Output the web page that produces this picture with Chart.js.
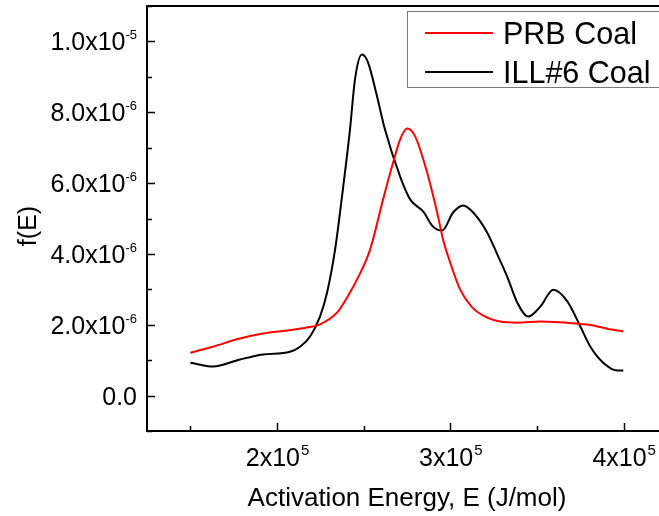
<!DOCTYPE html>
<html lang="en">
<head>
<meta charset="UTF-8" />
<title>f(E) vs Activation Energy</title>
<script src="https://cdn.jsdelivr.net/npm/chart.js"></script>
<style>
  html, body { margin: 0; padding: 0; overflow: hidden; background: #fff; }
  body { width: 659px; height: 516px; font-family: "Liberation Sans", Arial, sans-serif; }
  #wrap { position: relative; width: 668px; height: 516px; }
  #legend { position: absolute; left: 407px; top: 11px; width: 270px; height: 75px;
            border: 1.5px solid #7a7a7a; background: #fff; }
  .row { position: absolute; left: 0; display: flex; align-items: center; height: 38px; font-size: 30.5px; color: #000; }
  .swatch { width: 68px; height: 2px; margin-left: 17px; margin-right: 10px; }
</style>
</head>
<body>
<div id="wrap">
  <canvas id="chart" width="668" height="516"></canvas>
  <div id="legend"></div>
</div>
<script>
  // activation energy (J/mol) and distribution f(E)
  const prbE = [150000, 163000, 178600, 191900, 205800, 217300, 224800, 234600, 242100, 246200,
                253700, 261200, 267000, 271000, 275100, 279700, 286600, 292400, 295800, 299900,
                305700, 312600, 321300, 328800, 338600, 351900, 373200, 382500, 390500, 399800];
  const prbF = [1.21e-6, 1.38e-6, 1.61e-6, 1.75e-6, 1.84e-6, 1.92e-6, 2.01e-6, 2.34e-6, 2.91e-6, 3.28e-6,
                4.12e-6, 5.54e-6, 6.58e-6, 7.23e-6, 7.54e-6, 7.32e-6, 6.30e-6, 5.17e-6, 4.41e-6, 3.76e-6,
                2.99e-6, 2.49e-6, 2.20e-6, 2.09e-6, 2.06e-6, 2.09e-6, 2.03e-6, 1.98e-6, 1.89e-6, 1.81e-6];

  const illE = [150000, 163000, 178600, 191900, 207500, 213300, 219100, 224800, 228900, 233500,
                237500, 242100, 245000, 249000, 252500, 257700, 262300, 271000, 276800, 284300,
                290000, 295300, 301600, 307400, 313200, 321300, 327600, 332800, 338600, 344900,
                351900, 359400, 367500, 375000, 380800, 388200, 396300, 399800];
  const illF = [0.93e-6, 0.82e-6, 1.02e-6, 1.16e-6, 1.24e-6, 1.38e-6, 1.67e-6, 2.23e-6, 2.91e-6, 4.12e-6,
                5.62e-6, 7.51e-6, 8.93e-6, 9.63e-6, 9.41e-6, 8.45e-6, 7.51e-6, 6.19e-6, 5.54e-6, 5.20e-6,
                4.77e-6, 4.66e-6, 5.17e-6, 5.37e-6, 5.17e-6, 4.60e-6, 3.93e-6, 3.36e-6, 2.63e-6, 2.23e-6,
                2.51e-6, 2.99e-6, 2.66e-6, 1.95e-6, 1.38e-6, 0.93e-6, 0.71e-6, 0.71e-6];

  const seriesNames = ['PRB Coal', 'ILL#6 Coal'];
  const seriesColors = ['#ff0000', '#000000'];

  // tick positions (all get a mark) and the labelled ones, base text + exponent
  const xTickValues = [150000, 200000, 250000, 300000, 350000, 400000];
  const xLabelValues = [200000, 300000, 400000];
  const xLabelTexts = ['2x10', '3x10', '4x10'];
  const xLabelExps = ['5', '5', '5'];

  const yTickValues = [-1e-6, 0, 1e-6, 2e-6, 3e-6, 4e-6, 5e-6, 6e-6, 7e-6, 8e-6, 9e-6, 1e-5, 1.1e-5];
  const yLabelValues = [0, 2e-6, 4e-6, 6e-6, 8e-6, 1e-5];
  const yLabelTexts = ['0.0', '2.0x10', '4.0x10', '6.0x10', '8.0x10', '1.0x10'];
  const yLabelExps = ['', '-6', '-6', '-6', '-6', '-5'];

  const FONT = '"Liberation Sans", Arial, sans-serif';
  const toPoints = (xs, ys) => xs.map((x, i) => ({ x: x, y: ys[i] }));
  const isMajor = (v, list, eps) => list.some(t => Math.abs(t - v) < eps);

  // frame, inward ticks and tick labels with superscript exponents
  const frameTicks = {
    id: 'frameTicks',
    afterDraw(chart) {
      const { ctx, chartArea: a, scales: { x, y } } = chart;
      ctx.save();
      ctx.strokeStyle = '#000';
      ctx.lineWidth = 2;
      ctx.strokeRect(a.left, a.top, a.right - a.left, a.bottom - a.top);
      ctx.lineWidth = 1.5;
      ctx.beginPath();
      x.ticks.forEach(t => {
        const px = Math.round(x.getPixelForValue(t.value)) + 0.5;
        const len = isMajor(t.value, xLabelValues, 1) ? 8 : 5;
        ctx.moveTo(px, a.bottom); ctx.lineTo(px, a.bottom - len);
      });
      y.ticks.forEach(t => {
        const py = Math.round(y.getPixelForValue(t.value)) + 0.5;
        const len = isMajor(t.value, yLabelValues, 1e-9) ? 8 : 5;
        ctx.moveTo(a.left, py); ctx.lineTo(a.left + len, py);
      });
      ctx.stroke();

      ctx.fillStyle = '#000';
      ctx.textBaseline = 'alphabetic';
      ctx.textAlign = 'left';
      xLabelValues.forEach((v, i) => {
        const px = x.getPixelForValue(v);
        ctx.font = '25px ' + FONT;
        const wb = ctx.measureText(xLabelTexts[i]).width;
        ctx.font = '15px ' + FONT;
        const ws = ctx.measureText(xLabelExps[i]).width;
        const left = px - (wb + ws) / 2;
        ctx.font = '25px ' + FONT;
        ctx.fillText(xLabelTexts[i], left, a.bottom + 35);
        ctx.font = '15px ' + FONT;
        ctx.fillText(xLabelExps[i], left + wb + 1, a.bottom + 24);
      });
      yLabelValues.forEach((v, i) => {
        const py = y.getPixelForValue(v);
        const right = a.left - 10;
        ctx.font = '13px ' + FONT;
        const ws = ctx.measureText(yLabelExps[i]).width;
        ctx.font = '25px ' + FONT;
        ctx.textAlign = 'right';
        ctx.fillText(yLabelTexts[i], right - ws, py + 9);
        ctx.font = '13px ' + FONT;
        ctx.textAlign = 'left';
        ctx.fillText(yLabelExps[i], right - ws, py - 2);
      });

      // y title, rotated
      ctx.save();
      ctx.translate(36, 226);
      ctx.rotate(-Math.PI / 2);
      ctx.font = '25px ' + FONT;
      ctx.textAlign = 'center';
      ctx.fillText('f(E)', 0, 0);
      ctx.restore();
      ctx.restore();
    }
  };

  const chart = new Chart(document.getElementById('chart'), {
    type: 'line',
    data: {
      datasets: [
        { label: seriesNames[0], data: toPoints(prbE, prbF), borderColor: seriesColors[0] },
        { label: seriesNames[1], data: toPoints(illE, illF), borderColor: seriesColors[1] }
      ]
    },
    options: {
      responsive: false,
      animation: false,
      layout: { padding: { top: 6, right: 1, left: 0, bottom: 0 } },
      elements: {
        line: { borderWidth: 2, cubicInterpolationMode: 'monotone', fill: false },
        point: { radius: 0 }
      },
      plugins: { legend: { display: false }, tooltip: { enabled: false } },
      scales: {
        x: {
          type: 'linear', min: 125000, max: 425000,
          afterBuildTicks: s => { s.ticks = xTickValues.map(v => ({ value: v })); },
          afterFit: s => { s.height = 85; s.paddingLeft = 0; s.paddingRight = 0; },
          grid: { display: false, drawTicks: false },
          border: { display: false },
          ticks: { display: false },
          title: { display: true, text: 'Activation Energy, E (J/mol)', color: '#000',
                   font: { family: FONT, size: 26 }, padding: { top: 0, bottom: 2 } }
        },
        y: {
          min: -1e-6, max: 1.1e-5,
          afterBuildTicks: s => { s.ticks = yTickValues.map(v => ({ value: v })); },
          afterFit: s => { s.width = 147; s.paddingTop = 0; s.paddingBottom = 0; },
          grid: { display: false, drawTicks: false },
          border: { display: false },
          ticks: { display: false }
        }
      }
    },
    plugins: [frameTicks]
  });

  // legend box from the datasets
  const legend = document.getElementById('legend');
  chart.data.datasets.forEach((ds, i) => {
    const row = document.createElement('div');
    row.className = 'row';
    row.style.top = (2 + i * 39) + 'px';
    row.innerHTML = '<span class="swatch" style="background:' + ds.borderColor + '"></span>' + ds.label;
    legend.appendChild(row);
  });
</script>
</body>
</html>
